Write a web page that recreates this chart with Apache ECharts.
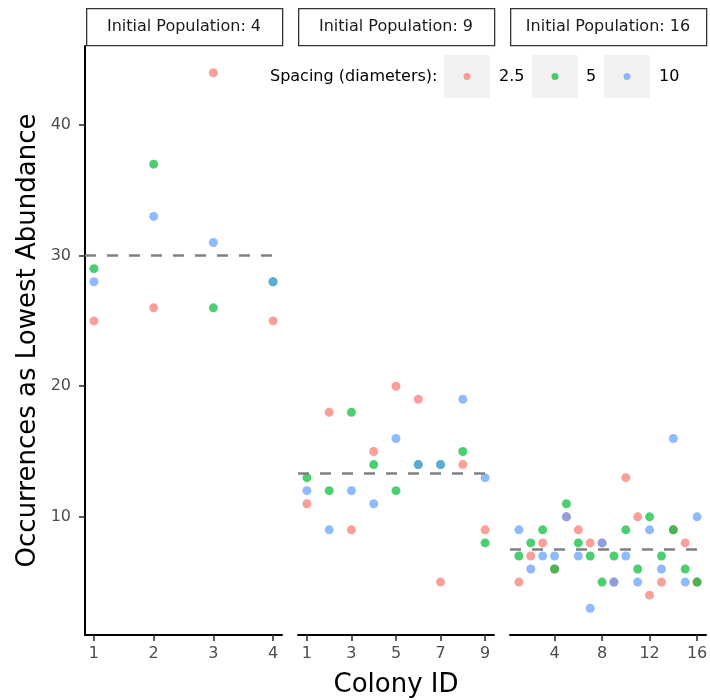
<!DOCTYPE html>
<html>
<head>
<meta charset="utf-8">
<script src="https://cdn.jsdelivr.net/npm/echarts@6/dist/echarts.min.js"></script>
<style>
  html, body { margin: 0; padding: 0; background: #fff; }
  #chart { width: 710px; height: 700px; }
</style>
</head>
<body>
<div id="chart"></div>
<script>
// facet labels and legend
const panelLabels = ["Initial Population: 4", "Initial Population: 9", "Initial Population: 16"];
const spacingLabels = ["2.5", "5", "10"];
const spacingColors = ["#F8766D", "#00BA38", "#619CFF"];

// colony ids per facet
const colonies4 = [1, 2, 3, 4];
const colonies9 = [1, 2, 3, 4, 5, 6, 7, 8, 9];
const colonies16 = [1, 2, 3, 4, 5, 6, 7, 8, 9, 10, 11, 12, 13, 14, 15, 16];

// occurrences as lowest abundance, one array per spacing
const pop4Spacing25 = [25, 26, 44, 25];
const pop4Spacing5 = [29, 37, 26, 28];
const pop4Spacing10 = [28, 33, 31, 28];

const pop9Spacing25 = [11, 18, 9, 15, 20, 19, 5, 14, 9];
const pop9Spacing5 = [13, 12, 18, 14, 12, 14, 14, 15, 8];
const pop9Spacing10 = [12, 9, 12, 11, 16, 14, 14, 19, 13];

const pop16Spacing25 = [5, 7, 8, 6, 10, 9, 8, 8, 5, 13, 10, 4, 5, 9, 8, 5];
const pop16Spacing5 = [7, 8, 9, 6, 11, 8, 7, 5, 7, 9, 6, 10, 7, 9, 6, 5];
const pop16Spacing10 = [9, 6, 7, 7, 10, 7, 3, 8, 5, 7, 5, 9, 6, 16, 5, 10];

// tick labels
const yTicks = [10, 20, 30, 40];
const xTicks4 = [1, 2, 3, 4];
const xTicks9 = [1, 3, 5, 7, 9];
const xTicks16 = [4, 8, 12, 16];

const FONT = "DejaVu Sans";

const panels = [
  { ids: colonies4, series: [pop4Spacing25, pop4Spacing5, pop4Spacing10], ticks: xTicks4, range: [0.85, 4.15], left: 85 },
  { ids: colonies9, series: [pop9Spacing25, pop9Spacing5, pop9Spacing10], ticks: xTicks9, range: [0.6, 9.4], left: 298 },
  { ids: colonies16, series: [pop16Spacing25, pop16Spacing5, pop16Spacing10], ticks: xTicks16, range: [0.25, 16.75], left: 510 },
];

const GRID_TOP = 46;
const GRID_H = 589;
const GRID_W = 197;

const mean = (arrs) => {
  const all = arrs.flat();
  return all.reduce((a, b) => a + b, 0) / all.length;
};

const chart = echarts.init(document.getElementById("chart"), null, { renderer: "canvas" });

const grids = [];
const xAxes = [];
const yAxes = [];
const series = [];
const graphics = [];

panels.forEach((p, i) => {
  grids.push({
    left: p.left,
    top: GRID_TOP,
    width: i === 0 ? GRID_W : GRID_W - 1,
    height: GRID_H,
    containLabel: false,
    outerBoundsMode: "none",
  });

  xAxes.push({
    type: "value",
    gridIndex: i,
    min: p.range[0],
    max: p.range[1],
    splitLine: { show: false },
    axisLine: { show: true, onZero: false, lineStyle: { color: "#000", width: 2 } },
    axisTick: { show: true, length: 6, customValues: p.ticks, lineStyle: { color: "#333", width: 1.6 } },
    axisLabel: { customValues: p.ticks, color: "#4D4D4D", fontSize: 16, fontFamily: FONT, margin: 11 },
    name: i === 1 ? "Colony ID" : "",
    nameLocation: "middle",
    nameGap: 37,
    nameTextStyle: { fontSize: 26, color: "#000", fontFamily: FONT },
  });

  yAxes.push({
    type: "value",
    gridIndex: i,
    min: 0.95,
    max: 46.05,
    splitLine: { show: false },
    axisLine: { show: i === 0, onZero: false, lineStyle: { color: "#000", width: 2 } },
    axisTick: { show: i === 0, length: 6, customValues: yTicks, lineStyle: { color: "#333", width: 1.6 } },
    axisLabel: { show: i === 0, customValues: yTicks, color: "#4D4D4D", fontSize: 16, fontFamily: FONT, margin: 14 },
    name: i === 0 ? "Occurrences as Lowest Abundance" : "",
    nameLocation: "middle",
    nameGap: 44,
    nameTextStyle: { fontSize: 26, color: "#000", fontFamily: FONT },
  });

  // dashed facet mean
  series.push({
    type: "line",
    xAxisIndex: i,
    yAxisIndex: i,
    data: [],
    z: 1,
    silent: true,
    markLine: {
      silent: true,
      symbol: "none",
      label: { show: false },
      lineStyle: { color: "#808080", width: 2.5, type: [11, 11] },
      data: [{ yAxis: mean(p.series) }],
    },
  });

  p.series.forEach((vals, k) => {
    series.push({
      name: spacingLabels[k],
      type: "scatter",
      xAxisIndex: i,
      yAxisIndex: i,
      z: 2,
      symbolSize: 9,
      itemStyle: { color: spacingColors[k], opacity: 0.7 },
      data: p.ids.map((id, j) => [id, vals[j]]),
    });
  });

  // facet strip
  graphics.push({
    type: "rect",
    left: i === 0 ? p.left + 1 : p.left,
    top: 8,
    shape: { width: 196, height: 37 },
    style: { fill: "#fff", stroke: "#333", lineWidth: 1.3 },
  });
  graphics.push({
    type: "text",
    x: (i === 0 ? p.left + 1 : p.left) + 98,
    y: 27,
    style: {
      text: panelLabels[i],
      fill: "#1A1A1A",
      font: `16px "${FONT}"`,
      align: "center",
      verticalAlign: "middle",
    },
  });
});

// legend drawn as graphics: title, grey keys, dots, labels
const legendKeyX = [444, 532, 604];
const legendTextX = [499, 586, 659];
graphics.push({
  type: "text",
  x: 270,
  y: 77,
  style: { text: "Spacing (diameters):", fill: "#000", font: `16px "${FONT}"`, verticalAlign: "middle" },
});
spacingLabels.forEach((lab, k) => {
  graphics.push({
    type: "rect",
    shape: { x: legendKeyX[k], y: 55, width: 46, height: 43 },
    style: { fill: "#F2F2F2" },
  });
  graphics.push({
    type: "circle",
    shape: { cx: legendKeyX[k] + 23, cy: 76.5, r: 3.5 },
    style: { fill: spacingColors[k], opacity: 0.7 },
  });
  graphics.push({
    type: "text",
    x: legendTextX[k],
    y: 77,
    style: { text: lab, fill: "#000", font: `16px "${FONT}"`, verticalAlign: "middle" },
  });
});

chart.setOption({
  backgroundColor: "#fff",
  animation: false,
  grid: grids,
  xAxis: xAxes,
  yAxis: yAxes,
  series: series,
  graphic: graphics,
});
</script>
</body>
</html>
